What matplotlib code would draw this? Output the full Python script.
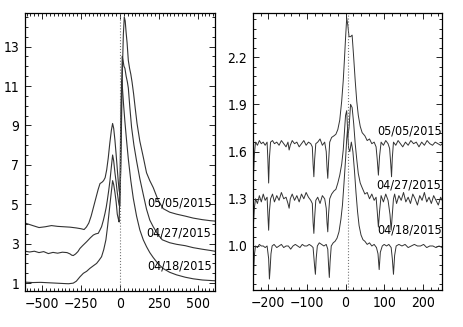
import numpy as np
import matplotlib.pyplot as plt
from matplotlib.ticker import MultipleLocator, AutoMinorLocator

plt.rcParams['font.family'] = ['DejaVu Sans']
plt.rcParams['font.stretch'] = 'condensed'

# ---- left panel: full profiles (velocity, normalised flux) ----
xL_0505 = [-610, -560, -520, -480, -440, -400, -360, -320, -280, -250, -230, -215, -200,
           -185, -170, -155, -140, -128, -115, -105, -95, -85, -75, -65, -55, -47, -40,
           -32, -24, -16, -10, -5, 0, 5, 10, 16, 22, 28, 34, 40, 46, 54, 62, 70, 78, 88,
           98, 110, 128, 150, 171, 192, 214, 246, 278, 320, 364, 420, 471, 530, 580, 610]
yL_0505 = [4.05, 3.92, 3.82, 3.86, 3.92, 3.88, 3.86, 3.84, 3.80, 3.76, 3.72, 3.85, 4.05,
           4.40, 4.85, 5.30, 5.75, 6.05, 6.12, 6.20, 6.35, 6.75, 7.35, 8.10, 8.75, 9.10, 8.85,
           8.25, 7.50, 6.70, 6.10, 5.70, 5.50, 6.6, 9.0, 11.8, 13.6, 14.5, 14.3, 13.7, 13.2,
           12.3, 11.9, 11.6, 11.2, 10.6, 9.9, 9.1, 8.2, 7.4, 6.6, 6.2, 5.85, 5.2, 4.78, 4.6,
           4.5, 4.4, 4.3, 4.22, 4.17, 4.15]

xL_0427 = [-610, -580, -550, -520, -490, -460, -430, -400, -370, -340, -320, -310, -300,
           -285, -270, -257, -240, -214, -190, -171, -155, -139, -128, -118, -106, -96,
           -88, -81, -72, -64, -55, -47, -40, -32, -24, -17, -10, -5, 0, 5, 10, 15, 20,
           26, 32, 40, 48, 54, 64, 75, 90, 107, 128, 150, 171, 192, 214, 246, 272, 320, 364,
           420, 471, 530, 580, 610]
yL_0427 = [2.62, 2.58, 2.62, 2.55, 2.60, 2.50, 2.56, 2.52, 2.57, 2.55, 2.48, 2.42, 2.40,
           2.48, 2.60, 2.76, 2.90, 3.10, 3.30, 3.44, 3.50, 3.53, 3.70, 3.86, 4.20, 4.54,
           4.85, 5.20, 5.70, 6.20, 6.90, 7.50, 7.20, 6.60, 6.10, 5.60, 5.20, 4.95, 4.90,
           7.2, 10.4, 12.5, 12.3, 12.0, 11.9, 11.5, 11.2, 10.9, 9.9, 8.9, 8.0, 7.2, 6.3,
           5.5, 4.75, 4.2, 3.86, 3.45, 3.20, 3.05, 2.97, 2.90, 2.80, 2.72, 2.66, 2.62]

xL_0418 = [-610, -560, -510, -460, -410, -360, -330, -300, -280, -257, -235, -214, -193,
           -171, -150, -135, -118, -104, -90, -79, -68, -57, -47, -40, -32, -24, -17, -10,
           -5, 0, 4, 8, 11, 14, 17, 24, 32, 42, 54, 70, 86, 107, 128, 150, 171, 192, 214,
           246, 278, 320, 364, 420, 471, 530, 610]
yL_0418 = [1.05, 1.03, 1.04, 1.02, 1.00, 0.98, 0.97, 1.00, 1.10, 1.32, 1.50, 1.60, 1.75,
           1.88, 2.00, 2.15, 2.34, 2.70, 3.20, 3.90, 4.70, 5.50, 6.20, 6.00, 5.60, 5.10,
           4.50, 4.25, 4.10, 5.8, 8.5, 10.3, 11.3, 11.1, 10.8, 10.0, 9.2, 8.3, 7.3, 6.2,
           5.3, 4.4, 3.7, 3.2, 2.85, 2.55, 2.30, 1.98, 1.74, 1.55, 1.42, 1.30, 1.22, 1.16,
           1.12]

# ---- right panel: zoom on the line core with narrow absorptions ----
xR_0505 = [-240, -238, -236, -233, -228, -223, -218, -213, -208, -203, -201, -199, -197,
           -194, -189, -184, -178, -172, -166, -160, -154, -149, -146, -143, -138, -132,
           -126, -120, -114, -108, -102, -96, -90, -86, -84, -82, -80, -77, -72, -66, -60,
           -54, -50, -48, -46, -44, -41, -36, -30, -25, -20, -15, -10, -6, -3, 0, 3, 6, 9,
           13, 17, 21, 25, 29, 33, 38, 43, 50, 56, 62, 68, 74, 79, 82, 85, 88, 92, 98, 104,
           110, 114, 117, 119, 121, 124, 130, 136, 142, 148, 155, 162, 169, 176, 183, 190,
           197, 204, 211, 218, 225, 232, 239, 246, 250]
yR_0505 = [1.64, 1.46, 1.58, 1.66, 1.64, 1.67, 1.65, 1.66, 1.64, 1.66, 1.55, 1.40, 1.56,
           1.66, 1.67, 1.65, 1.66, 1.64, 1.67, 1.65, 1.63, 1.66, 1.61, 1.64, 1.67, 1.65,
           1.66, 1.63, 1.65, 1.67, 1.64, 1.66, 1.65, 1.63, 1.52, 1.44, 1.55, 1.65, 1.66,
           1.68, 1.64, 1.66, 1.60, 1.50, 1.43, 1.53, 1.66, 1.69, 1.70, 1.71, 1.74, 1.80, 1.92,
           2.05, 2.18, 2.32, 2.45, 2.40, 2.33, 2.33, 2.34, 2.20, 2.05, 1.92, 1.83, 1.76, 1.72,
           1.70, 1.67, 1.68, 1.65, 1.66, 1.63, 1.55, 1.45, 1.57, 1.66, 1.64, 1.67, 1.65, 1.62,
           1.52, 1.44, 1.56, 1.66, 1.64, 1.67, 1.65, 1.63, 1.66, 1.64, 1.67, 1.65, 1.66,
           1.63, 1.66, 1.64, 1.67, 1.65, 1.64, 1.66, 1.65, 1.64, 1.65]

xR_0427 = [-240, -238, -236, -233, -228, -223, -218, -213, -208, -203, -201, -199, -197,
           -194, -189, -184, -178, -172, -166, -160, -154, -149, -146, -143, -138, -132,
           -126, -120, -114, -108, -102, -96, -90, -86, -84, -82, -80, -77, -72, -66, -60,
           -54, -50, -48, -46, -44, -41, -36, -30, -25, -20, -15, -10, -6, -3, 0, 3, 6, 9,
           13, 17, 21, 25, 29, 33, 38, 43, 50, 56, 62, 68, 74, 79, 82, 85, 88, 92, 98, 104,
           110, 115, 118, 121, 124, 127, 132, 138, 144, 150, 156, 162, 168, 174, 180, 186,
           192, 198, 204, 210, 216, 222, 228, 234, 240, 246, 250]
yR_0427 = [1.22, 1.15, 1.24, 1.30, 1.27, 1.32, 1.28, 1.33, 1.29, 1.31, 1.20, 1.10, 1.22,
           1.30, 1.33, 1.28, 1.32, 1.29, 1.34, 1.30, 1.31, 1.27, 1.24, 1.30, 1.33, 1.29,
           1.32, 1.28, 1.33, 1.30, 1.34, 1.31, 1.29, 1.27, 1.15, 1.08, 1.18, 1.29, 1.31,
           1.27, 1.32, 1.30, 1.24, 1.15, 1.09, 1.20, 1.30, 1.33, 1.35, 1.36, 1.40, 1.45,
           1.52, 1.61, 1.72, 1.83, 1.86, 1.70, 1.75, 1.90, 1.88, 1.78, 1.65, 1.55, 1.46, 1.40,
           1.37, 1.33, 1.34, 1.30, 1.33, 1.29, 1.31, 1.22, 1.12, 1.22, 1.32, 1.28, 1.33,
           1.29, 1.20, 1.10, 1.20, 1.30, 1.33, 1.27, 1.32, 1.29, 1.34, 1.28, 1.31, 1.27,
           1.33, 1.30, 1.26, 1.32, 1.29, 1.34, 1.28, 1.31, 1.27, 1.32, 1.29, 1.26, 1.31,
           1.29]

xR_0418 = [-240, -238, -236, -233, -228, -223, -218, -213, -208, -203, -199, -197, -195,
           -193, -190, -185, -178, -172, -166, -160, -154, -148, -142, -136, -130, -124,
           -118, -112, -106, -100, -94, -88, -84, -82, -80, -78, -76, -73, -68, -62, -56,
           -50, -46, -44, -42, -40, -37, -32, -27, -22, -17, -12, -8, -4, 0, 3, 5, 8, 11,
           15, 19, 23, 27, 31, 35, 40, 45, 50, 56, 62, 68, 74, 80, 84, 87, 90, 95, 100, 106,
           112, 118, 121, 124, 127, 131, 138, 146, 154, 162, 170, 178, 186, 194, 202, 210,
           218, 226, 234, 242, 250]
yR_0418 = [0.90, 0.82, 0.94, 1.00, 0.99, 1.01, 1.00, 1.00, 0.99, 1.00, 0.92, 0.79, 0.86,
           0.95, 1.00, 1.01, 0.99, 1.00, 1.01, 0.99, 1.00, 1.00, 0.98, 1.00, 1.01, 1.00,
           0.99, 1.01, 1.00, 1.00, 1.01, 1.00, 0.99, 0.93, 0.87, 0.82, 0.92, 1.00, 1.02,
           1.01, 1.00, 1.01, 0.98, 0.88, 0.80, 0.90, 1.00, 1.02, 1.03, 1.05, 1.09, 1.17,
           1.26, 1.40, 1.55, 1.68, 1.74, 1.62, 1.60, 1.66, 1.60, 1.48, 1.34, 1.22, 1.13,
           1.07, 1.04, 1.03, 1.01, 1.02, 1.00, 1.01, 0.99, 0.95, 0.85, 0.96, 1.00, 1.01,
           1.00, 1.01, 0.99, 0.92, 0.82, 0.94, 1.00, 1.01, 1.00, 1.01, 0.99, 1.00, 1.01,
           1.00, 1.00, 1.01, 0.99, 1.00, 1.00, 0.99, 1.00, 0.99]

dates = ["05/05/2015", "04/27/2015", "04/18/2015"]
labL_y = [5.07, 3.54, 1.87]
labR_y = [1.73, 1.39, 1.10]

col = "#333333"
fig = plt.figure(figsize=(4.63, 3.27), dpi=100)
axL = fig.add_axes([0.054, 0.110, 0.410, 0.850])
axR = fig.add_axes([0.546, 0.113, 0.409, 0.847])

for xs, ys in [(xL_0505, yL_0505), (xL_0427, yL_0427), (xL_0418, yL_0418)]:
    axL.plot(xs, ys, color=col, lw=0.8)
for xs, ys in [(xR_0505, yR_0505), (xR_0427, yR_0427), (xR_0418, yR_0418)]:
    axR.plot(xs, ys, color=col, lw=0.7)

axL.axvline(0, color="#777777", ls=":", lw=0.8)
axR.axvline(6, color="#777777", ls=":", lw=0.8)

for d, yl, yr in zip(dates, labL_y, labR_y):
    axL.text(588, yl, d, ha="right", va="center", fontsize=9)
    axR.text(248, yr, d, ha="right", va="center", fontsize=9)

axL.set_xlim(-610, 610)
axL.set_ylim(0.6, 14.7)
axL.xaxis.set_major_locator(MultipleLocator(250))
axL.xaxis.set_minor_locator(AutoMinorLocator(10))
axL.set_yticks([1, 3, 5, 7, 9, 11, 13])
axL.yaxis.set_minor_locator(MultipleLocator(0.5))

axR.set_xlim(-240, 250)
axR.set_ylim(0.72, 2.48)
axR.xaxis.set_major_locator(MultipleLocator(100))
axR.xaxis.set_minor_locator(AutoMinorLocator(5))
axR.set_yticks([1.0, 1.3, 1.6, 1.9, 2.2])
axR.set_yticklabels(["1.0", "1.3", "1.6", "1.9", "2.2"])
axR.yaxis.set_minor_locator(AutoMinorLocator(5))

for ax in (axL, axR):
    ax.tick_params(which="both", direction="in", top=True, right=True, labelsize=10,
                   width=0.6, pad=4)
    ax.tick_params(which="major", length=4)
    ax.tick_params(which="minor", length=2)
    for s in ax.spines.values():
        s.set_linewidth(0.9)

fig.savefig("out.png", dpi=100)
